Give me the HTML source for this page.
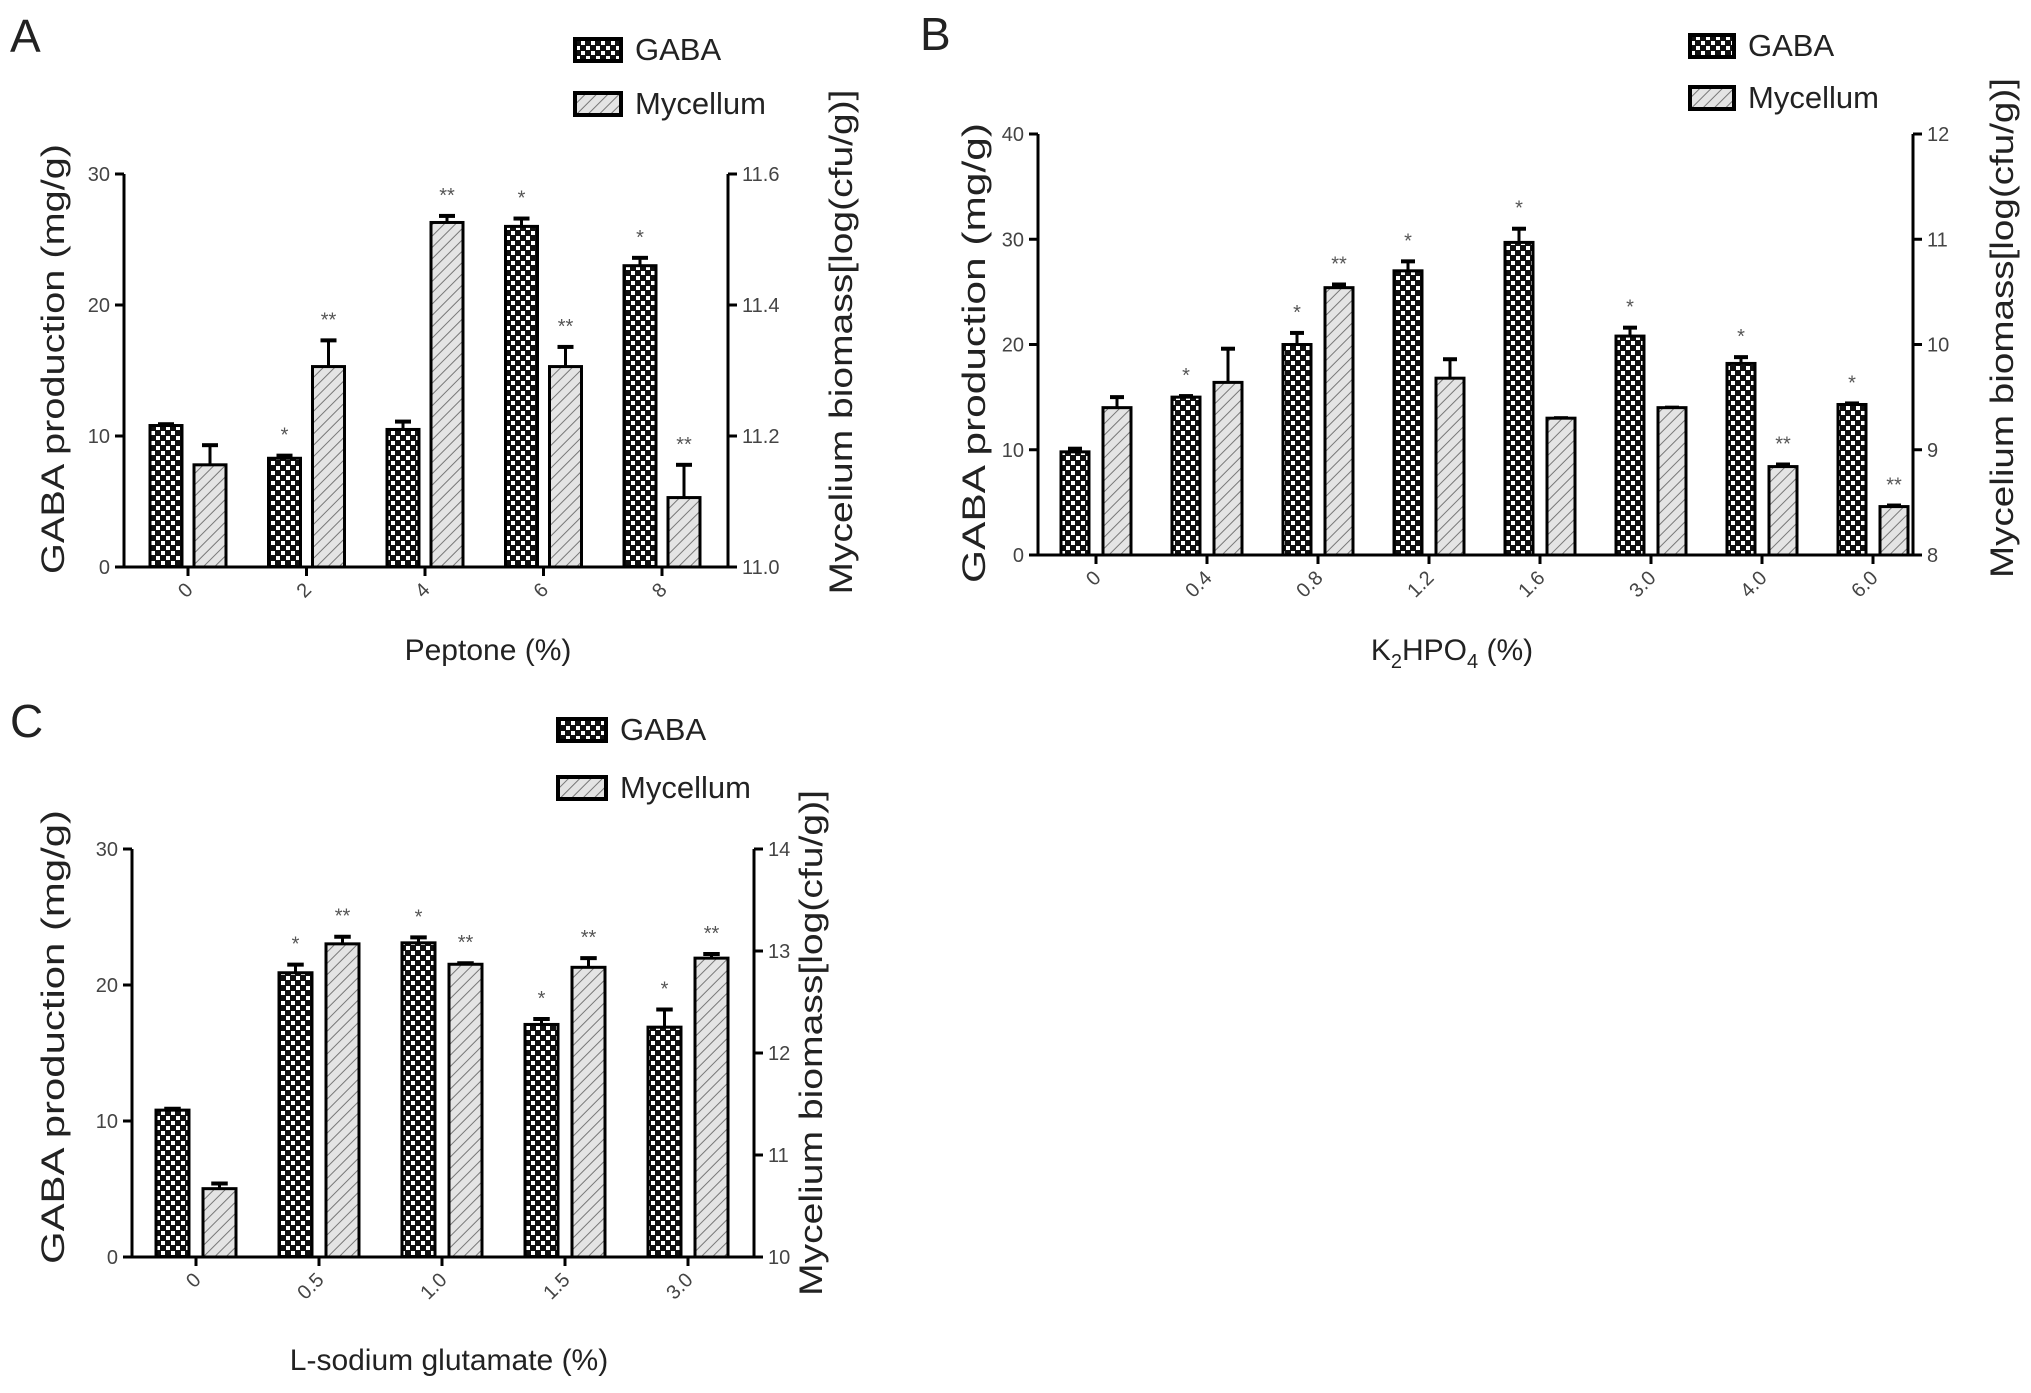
<!DOCTYPE html>
<html><head><meta charset="utf-8"><style>
html,body{margin:0;padding:0;background:#fff;}
svg{display:block;font-family:"Liberation Sans",sans-serif;}
</style></head><body>
<svg id="fig" width="2031" height="1393" viewBox="0 0 2031 1393" xmlns="http://www.w3.org/2000/svg">
<defs>
<pattern id="chk" width="10" height="10" patternUnits="userSpaceOnUse">
<rect width="10" height="10" fill="#111"/>
<rect x="1" y="1" width="4" height="4" fill="#fff"/>
<rect x="6" y="6" width="4" height="4" fill="#fff"/>
</pattern>
<pattern id="hatch" width="8" height="8" patternUnits="userSpaceOnUse" patternTransform="rotate(45)">
<rect width="8" height="8" fill="#e4e4e4"/>
<line x1="0" y1="0" x2="0" y2="8" stroke="#777" stroke-width="2"/>
</pattern>
</defs>
<g id="root"></g>
</svg>
<script>
// Panel A data
const aCats = ["0","2","4","6","8"];
const aGaba = [10.8, 8.3, 10.5, 26.0, 23.0];
const aGabaErr = [0.1, 0.2, 0.6, 0.6, 0.6];
const aMyc = [11.156, 11.306, 11.526, 11.306, 11.106];
const aMycErr = [0.03, 0.04, 0.01, 0.03, 0.05];
const aGabaSig = ["", "*", "", "*", "*"];
const aMycSig = ["", "**", "**", "**", "**"];
const aLeftTicks = [0, 10, 20, 30];
const aRightTicks = [11.0, 11.2, 11.4, 11.6];
const aRightLabels = ["11.0", "11.2", "11.4", "11.6"];
// Panel B data
const bCats = ["0","0.4","0.8","1.2","1.6","3.0","4.0","6.0"];
const bGaba = [9.8, 15.0, 20.0, 27.0, 29.7, 20.8, 18.2, 14.3];
const bGabaErr = [0.3, 0.1, 1.1, 0.9, 1.3, 0.8, 0.6, 0.1];
const bMyc = [9.4, 9.64, 10.54, 9.68, 9.3, 9.4, 8.84, 8.46];
const bMycErr = [0.1, 0.32, 0.03, 0.18, 0.0, 0.0, 0.02, 0.01];
const bGabaSig = ["", "*", "*", "*", "*", "*", "*", "*"];
const bMycSig = ["", "", "**", "", "", "", "**", "**"];
const bLeftTicks = [0, 10, 20, 30, 40];
const bRightTicks = [8, 9, 10, 11, 12];
const bRightLabels = ["8", "9", "10", "11", "12"];
// Panel C data
const cCats = ["0","0.5","1.0","1.5","3.0"];
const cGaba = [10.8, 20.9, 23.1, 17.1, 16.9];
const cGabaErr = [0.1, 0.6, 0.4, 0.4, 1.3];
const cMyc = [10.67, 13.07, 12.87, 12.84, 12.93];
const cMycErr = [0.05, 0.07, 0.01, 0.09, 0.04];
const cGabaSig = ["", "*", "*", "*", "*"];
const cMycSig = ["", "**", "**", "**", "**"];
const cLeftTicks = [0, 10, 20, 30];
const cRightTicks = [10, 11, 12, 13, 14];
const cRightLabels = ["10", "11", "12", "13", "14"];

const NS = "http://www.w3.org/2000/svg";
const root = document.getElementById("root");
function mk(tag, attrs, parent) {
  const e = document.createElementNS(NS, tag);
  for (const k in attrs) e.setAttribute(k, attrs[k]);
  (parent || root).appendChild(e);
  return e;
}

function drawPanel(p) {
  const g = mk("g", {});
  
  
  const L = p.layout;
  const yL = v => L.y0 - (v - p.lTicks[0]) / (p.lTicks[p.lTicks.length - 1] - p.lTicks[0]) * (L.y0 - L.yTop);
  const yR = v => L.y0 - (v - p.rTicks[0]) / (p.rTicks[p.rTicks.length - 1] - p.rTicks[0]) * (L.y0 - L.yTop);
  const xC = i => L.first + i * L.step;

  const letter = mk("text", {x: L.letterX, y: L.letterY, "font-size": 46, fill: "#222", "font-weight": "300"}, g);
  letter.textContent = p.id.toUpperCase();
  
  

  p.cats.forEach((c, i) => {
    const cx = xC(i);
    const gx = cx - L.gap / 2 - L.barW;
    const gt = yL(p.gaba[i]);
    const gTop = yL(p.gaba[i] + p.gabaErr[i]);
    const eb1 = mk("line", {x1: gx + L.barW / 2, x2: gx + L.barW / 2, y1: gt, y2: gTop, stroke: "#000", "stroke-width": 3}, g);
    
    
    const cap1 = mk("line", {x1: gx + L.barW / 4, x2: gx + L.barW * 3 / 4, y1: gTop, y2: gTop, stroke: "#000", "stroke-width": 4}, g);
    
    
    const b1 = mk("rect", {x: gx, y: gt, width: L.barW, height: L.y0 - gt, fill: "url(#chk)", stroke: "#000", "stroke-width": 3}, g);
    
    

    const mx = cx + L.gap / 2;
    const mt = yR(p.myc[i]);
    const mTop = yR(p.myc[i] + p.mycErr[i]);
    const eb2 = mk("line", {x1: mx + L.barW / 2, x2: mx + L.barW / 2, y1: mt, y2: mTop, stroke: "#000", "stroke-width": 3}, g);
    
    
    const cap2 = mk("line", {x1: mx + L.barW / 4, x2: mx + L.barW * 3 / 4, y1: mTop, y2: mTop, stroke: "#000", "stroke-width": 4}, g);
    
    
    const b2 = mk("rect", {x: mx, y: mt, width: L.barW, height: L.y0 - mt, fill: "url(#hatch)", stroke: "#000", "stroke-width": 3}, g);
    
    

    if (p.gabaSig[i]) {
      const s = mk("text", {x: gx + L.barW / 2, y: gTop - 14, "font-size": 20, fill: "#555", "text-anchor": "middle"}, g);
      s.textContent = p.gabaSig[i];
      
      
    }
    if (p.mycSig[i]) {
      const s = mk("text", {x: mx + L.barW / 2, y: mTop - 14, "font-size": 20, fill: "#555", "text-anchor": "middle"}, g);
      s.textContent = p.mycSig[i];
      
      
    }
    const t = mk("line", {x1: cx, x2: cx, y1: L.y0, y2: L.y0 + 9, stroke: "#000", "stroke-width": 3}, g);
    
    
    const lx = cx + 6, ly = L.y0 + 24;
    const tl = mk("text", {x: lx, y: ly, "font-size": 20, fill: "#444", "text-anchor": "end", transform: `rotate(-45 ${lx} ${ly})`}, g);
    tl.textContent = c;
    
    
  });

  const ax = mk("path", {d: `M${L.xL} ${L.yTop} V${L.y0} H${L.xR} V${L.yTop}`, fill: "none", stroke: "#000", "stroke-width": 3}, g);
  
  
  p.lTicks.forEach(v => {
    const y = yL(v);
    const t = mk("line", {x1: L.xL - 9, x2: L.xL, y1: y, y2: y, stroke: "#000", "stroke-width": 3}, g);
    
    
    const tl = mk("text", {x: L.xL - 14, y: y + 7, "font-size": 20, fill: "#444", "text-anchor": "end"}, g);
    tl.textContent = String(v);
    
    
  });
  p.rTicks.forEach((v, i) => {
    const y = yR(v);
    const t = mk("line", {x1: L.xR, x2: L.xR + 9, y1: y, y2: y, stroke: "#000", "stroke-width": 3}, g);
    
    
    const tl = mk("text", {x: L.xR + 14, y: y + 7, "font-size": 20, fill: "#444"}, g);
    tl.textContent = p.rLabels[i];
    
    
  });

  const lt = mk("text", {x: 0, y: 0, "font-size": 32, fill: "#222", "text-anchor": "middle", textLength: L.lTitleLen, lengthAdjust: "spacingAndGlyphs", transform: `translate(${L.lTitleX} ${L.lTitleY}) rotate(-90)`}, g);
  lt.textContent = "GABA production (mg/g)";
  
  
  const rt = mk("text", {x: 0, y: 0, "font-size": 32, fill: "#222", "text-anchor": "middle", textLength: L.rTitleLen, lengthAdjust: "spacingAndGlyphs", transform: `translate(${L.rTitleX} ${L.rTitleY}) rotate(-90)`}, g);
  rt.textContent = "Mycelium biomass[log(cfu/g)]";
  
  
  const xt = mk("text", {x: L.xTitleX, y: L.xTitleY, "font-size": 30, fill: "#222", "text-anchor": "middle"}, g);
  if (p.id === "b") {
    xt.innerHTML = 'K<tspan font-size="20" dy="8">2</tspan><tspan dy="-8">HPO</tspan><tspan font-size="20" dy="8">4</tspan><tspan dy="-8"> (%)</tspan>';
  } else {
    xt.textContent = p.xTitle;
  }
  
  

  const lg = mk("g", {}, g);
  
  
  [["GABA", "url(#chk)", L.legY1], ["Mycellum", "url(#hatch)", L.legY2]].forEach(e => {
    const r = mk("rect", {x: L.legX, y: e[2], width: L.legW, height: 22, fill: e[1], stroke: "#000", "stroke-width": 4}, lg);
    
    
    const t = mk("text", {x: L.legX + L.legW + 14, y: e[2] + 21, "font-size": 31, fill: "#222"}, lg);
    t.textContent = e[0];
    
    
  });
}

drawPanel({id: "a", cats: aCats, gaba: aGaba, gabaErr: aGabaErr, myc: aMyc, mycErr: aMycErr, gabaSig: aGabaSig, mycSig: aMycSig,
  lTicks: aLeftTicks, rTicks: aRightTicks, rLabels: aRightLabels, xTitle: "Peptone (%)",
  layout: {xL: 124, xR: 728, yTop: 174, y0: 567, first: 188, step: 118.5, barW: 32, gap: 12,
    letterX: 10, letterY: 52, lTitleX: 64, lTitleY: 359, lTitleLen: 430, rTitleX: 852, rTitleY: 342, rTitleLen: 505,
    xTitleX: 488, xTitleY: 660, legX: 575, legY1: 39, legY2: 93, legW: 46}});
drawPanel({id: "b", cats: bCats, gaba: bGaba, gabaErr: bGabaErr, myc: bMyc, mycErr: bMycErr, gabaSig: bGabaSig, mycSig: bMycSig,
  lTicks: bLeftTicks, rTicks: bRightTicks, rLabels: bRightLabels, xTitle: "K2HPO4 (%)",
  layout: {xL: 1038, xR: 1913, yTop: 134, y0: 555, first: 1096, step: 111, barW: 28, gap: 14,
    letterX: 920, letterY: 50, lTitleX: 985, lTitleY: 353, lTitleLen: 460, rTitleX: 2013, rTitleY: 328, rTitleLen: 500,
    xTitleX: 1452, xTitleY: 660, legX: 1690, legY1: 35, legY2: 87, legW: 44}});
drawPanel({id: "c", cats: cCats, gaba: cGaba, gabaErr: cGabaErr, myc: cMyc, mycErr: cMycErr, gabaSig: cGabaSig, mycSig: cMycSig,
  lTicks: cLeftTicks, rTicks: cRightTicks, rLabels: cRightLabels, xTitle: "L-sodium glutamate (%)",
  layout: {xL: 132, xR: 754, yTop: 849, y0: 1257, first: 196, step: 123, barW: 33, gap: 14,
    letterX: 10, letterY: 737, lTitleX: 64, lTitleY: 1037, lTitleLen: 454, rTitleX: 822, rTitleY: 1043, rTitleLen: 506,
    xTitleX: 449, xTitleY: 1370, legX: 558, legY1: 719, legY2: 777, legW: 48}});
</script>
</body></html>
